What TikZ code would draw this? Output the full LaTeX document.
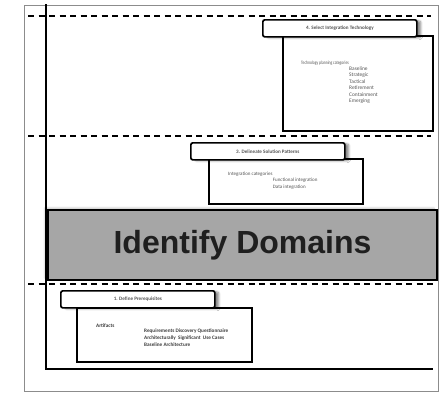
\documentclass[tikz,border=0pt]{standalone}
\usepackage{fontspec}
\setmainfont{Carlito}
\newfontfamily\headfont{Liberation Sans}
\usetikzlibrary{positioning,shadows.blur}
\definecolor{frame}{HTML}{8C8C8C}
\definecolor{domain}{HTML}{A6A6A6}
\definecolor{ink}{HTML}{555555}
\definecolor{darkink}{HTML}{3C3C3C}

\begin{document}
\begin{tikzpicture}[x=1pt,y=-1pt,
  head/.style={draw,rounded corners=2pt,fill=white,line width=1.7pt,minimum width=154pt,minimum height=17pt,anchor=north west,inner sep=0pt,
    font=\fontsize{5.1}{6}\selectfont\bfseries,text=ink,
    blur shadow={shadow xshift=4pt,shadow yshift=-1pt,shadow blur steps=6,shadow opacity=45}},
  body/.style={draw,fill=white,line width=1.7pt,anchor=north west,inner sep=0pt},
  txt/.style={inner sep=0pt,anchor=west,align=left,text=ink,font=\fontsize{5}{7}\selectfont},
  axis/.style={line width=2.8pt,line cap=rect},
  lane/.style={dashed,line width=1.3pt,dash pattern=on 6pt off 4.5pt}]
\useasboundingbox (0,0) rectangle (443,392);
\draw[frame,line width=0.6pt] (24,5) rectangle (438.5,391.5);
% swimlane borders
\coordinate (o) at (46,369);
\coordinate (top) at (46,5);
\coordinate (end) at (432,369);
\draw[lane] (28,16) -- (431,16);
\draw[lane] (28,136) -- (431,136);
\draw[lane] (28,284) -- (433,284);
% domains band
\node[draw,fill=domain,line width=2pt,minimum width=389pt,minimum height=70pt,anchor=north west,inner sep=0pt,
  font=\headfont\fontsize{32}{32}\selectfont\bfseries,text=black!88,
  blur shadow={shadow xshift=-3pt,shadow yshift=2pt,shadow blur steps=6,shadow opacity=25}] (dom) at (47,209) {\raisebox{-1pt}{Identify Domains}};
% step 4
\node[body,minimum width=150pt,minimum height=95pt] (b4) at (282,35) {};
\node[head] (h4) at (262,19) {4. Select Integration Technology};
\node[txt,font=\fontsize{5}{6}\selectfont] (t4) at (301,63.5) {\scalebox{0.75}[1]{Technology planning categories}};
\node[txt,anchor=north west,font=\fontsize{5.4}{6.5}\selectfont] (l4) at ([yshift=-3pt]t4.east) {Baseline\\Strategic\\Tactical\\Retirement\\Containment\\Emerging};
% step 3
\node[body,minimum width=154pt,minimum height=45pt] (b3) at (208,158) {};
\node[head] (h3) at (190,142) {3. Delineate Solution Patterns};
\node[txt] (t3) at (228,174.5) {Integration categories};
\node[txt,anchor=north west] (l3) at ([yshift=-3.5pt]t3.east) {Functional integration\\Data integration};
% step 1
\node[body,minimum width=175pt,minimum height=54pt] (b1) at (76,307) {};
\node[head] (h1) at (60,290) {1. Define Prerequisites};
\node[txt,text=darkink,font=\fontsize{5.2}{7}\selectfont\bfseries] (t1) at (96,326) {Artifacts};
\node[txt,anchor=north west,text=darkink,font=\fontsize{5.2}{7}\selectfont\bfseries] (l1) at (144,328.5) {Requirements Discovery Questionnaire\\Architecturally\ \ Significant\ \ Use Cases\\Baseline Architecture};
% axes
\draw[axis] (top) -- (o) -- (end);
\end{tikzpicture}
\end{document}
